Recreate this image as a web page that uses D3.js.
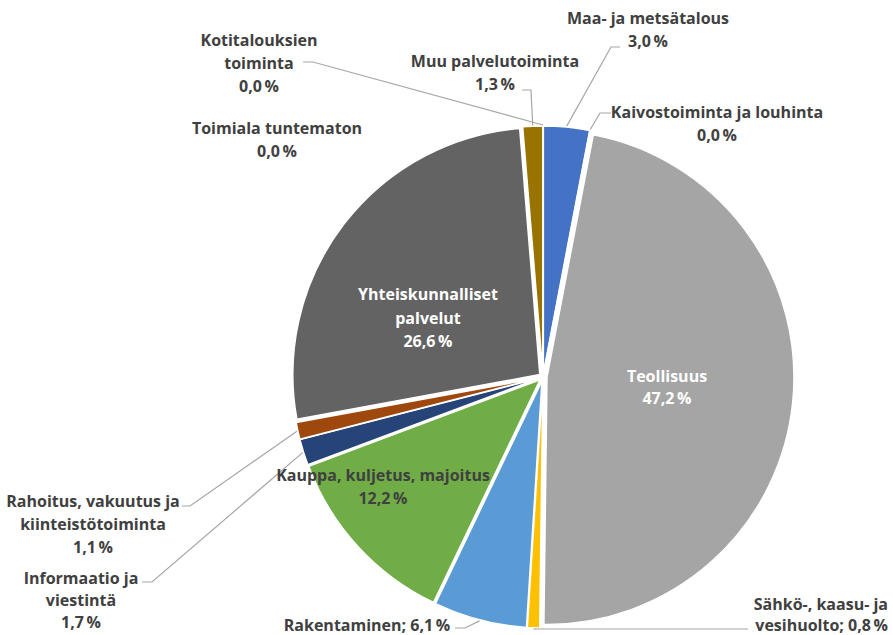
<!DOCTYPE html>
<html>
<head>
<meta charset="utf-8">
<script src="https://cdn.jsdelivr.net/npm/d3@7"></script>
<style>
  html, body { margin: 0; padding: 0; background: #fff; }
  svg text { font-family: "Open Sans", Lato, sans-serif; font-weight: 700; }
</style>
</head>
<body>
<div id="chart"></div>
<script>
// data, clockwise from 12 o'clock
const categories = [
  "Maa- ja metsätalous", "Kaivostoiminta ja louhinta", "Teollisuus",
  "Sähkö-, kaasu- ja vesihuolto", "Rakentaminen", "Kauppa, kuljetus, majoitus",
  "Informaatio ja viestintä", "Rahoitus, vakuutus ja kiinteistötoiminta",
  "Yhteiskunnalliset palvelut", "Muu palvelutoiminta", "Toimiala tuntematon",
  "Kotitalouksien toiminta"
];
const values = [3.0, 0.0, 47.2, 0.8, 6.1, 12.2, 1.7, 1.1, 26.6, 1.3, 0.0, 0.0];
const colors = [
  "#4472C4", "#ED7D31", "#A5A5A5", "#FFC000", "#5B9BD5", "#70AD47",
  "#264478", "#9E480E", "#636363", "#997300", "#255E91", "#43682B"
];
// how each category name is broken into label lines
const labelNames = [
  ["Maa- ja metsätalous"], ["Kaivostoiminta ja louhinta"], ["Teollisuus"],
  ["Sähkö-, kaasu- ja", "vesihuolto"], ["Rakentaminen"], ["Kauppa, kuljetus, majoitus"],
  ["Informaatio ja", "viestintä"], ["Rahoitus, vakuutus ja", "kiinteistötoiminta"],
  ["Yhteiskunnalliset", "palvelut"], ["Muu palvelutoiminta"], ["Toimiala tuntematon"],
  ["Kotitalouksien", "toiminta"]
];

const W = 893, H = 635;
const cx = 543, cy = 377, R = 247, explode = 4;
const lineH = 23;

// label placement: x = text anchor, y = first baseline, semi = "name; value" on last line,
// lead = [start x, start y, elbow x] of the leader line (end is computed on the slice)
const layout = [
  {x: 648, y: 24, lead: [620, 47, 611]},
  {x: 717, y: 118, lead: [611, 113, 600]},
  {x: 667, y: 382, fill: "#fff", dy: 22},
  {x: 888, y: 610, anchor: "end", semi: true, dy: 21, lead: [748, 629, 538]},
  {x: 367, y: 631, semi: true, lead: [455, 628, 465]},
  {x: 383, y: 481, fill: "#404040"},
  {x: 81, y: 584, dy: 22, lead: [142, 582, 152]},
  {x: 93, y: 507, lead: [182, 506, 190]},
  {x: 428, y: 300, fill: "#fff", dy: 23.5},
  {x: 495, y: 67, lead: [522, 90, 531]},
  {x: 277, y: 134},
  {x: 259, y: 46, lead: [303, 62, 313]}
];

const fmt = v => d3.format(".1f")(v).replace(".", ",") + "\u2009%";

const svg = d3.select("#chart").append("svg")
    .attr("width", W)
    .attr("height", H);

const pie = d3.pie().sort(null).value(d => d)(values);
const arc = d3.arc().innerRadius(0).outerRadius(R);

const mid = d => (d.startAngle + d.endAngle) / 2;
const shift = d => [explode * Math.sin(mid(d)), -explode * Math.cos(mid(d))];

const g = svg.append("g").attr("transform", "translate(" + cx + "," + cy + ")");

g.selectAll("path.slice")
    .data(pie)
    .enter().append("path")
    .attr("class", "slice")
    .attr("transform", d => "translate(" + shift(d) + ")")
    .attr("d", arc)
    .attr("fill", (d, i) => colors[i])
    .attr("stroke", "#fff")
    .attr("stroke-width", 1.5);

// leader lines
const leaders = svg.append("g");
pie.forEach((d, i) => {
  const L = layout[i];
  if (!L.lead) return;
  const a = mid(d), s = shift(d);
  const ex = cx + s[0] + (R + 1) * Math.sin(a);
  const ey = cy + s[1] - (R + 1) * Math.cos(a);
  const [sx, sy, bx] = L.lead;
  leaders.append("path")
      .attr("d", d3.line()([[sx, sy], [bx, sy], [ex, ey]]))
      .attr("fill", "none")
      .attr("stroke", "#A6A6A6")
      .attr("stroke-width", 1.2);
});

// labels
const labels = svg.append("g");
pie.forEach((d, i) => {
  const L = layout[i];
  let lines = labelNames[i].slice();
  if (L.semi) lines[lines.length - 1] += "; " + fmt(values[i]);
  else lines.push(fmt(values[i]));
  const t = labels.append("text")
      .attr("text-anchor", L.anchor || "middle")
      .attr("fill", L.fill || "#404040")
      .style("font-size", "16px");
  lines.forEach((ln, k) => {
    t.append("tspan")
        .attr("x", L.x)
        .attr("y", L.y + k * (L.dy || lineH))
        .text(ln);
  });
});
</script>
</body>
</html>
